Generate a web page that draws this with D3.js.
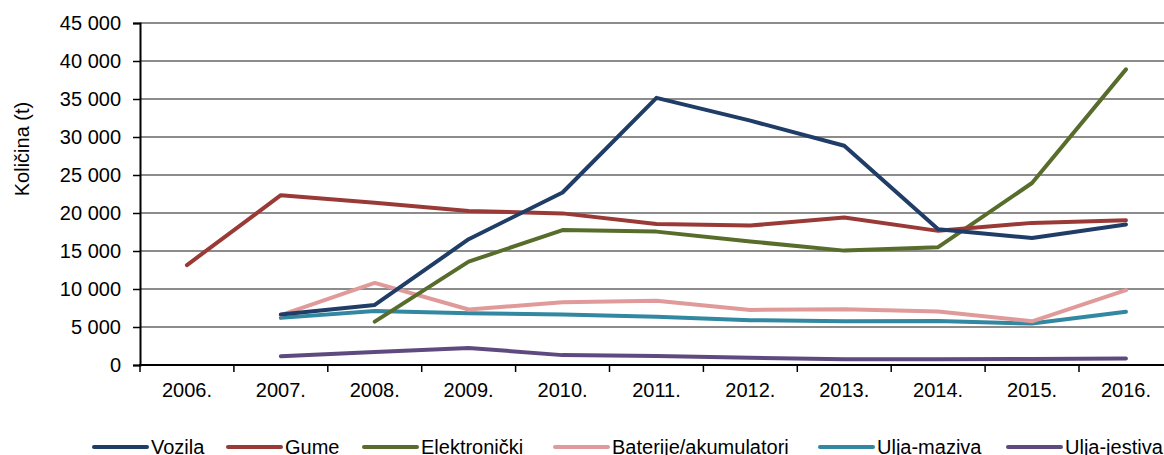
<!DOCTYPE html>
<html>
<head>
<meta charset="utf-8">
<script src="https://cdn.jsdelivr.net/npm/d3@7"></script>
<style>
  body { margin: 0; background: #fff; }
  svg { display: block; font-family: "Liberation Sans", Arial, sans-serif; }
</style>
</head>
<body>
<div class="chart"></div>
<script>
// categories (years)
var years = ['2006.', '2007.', '2008.', '2009.', '2010.', '2011.', '2012.', '2013.', '2014.', '2015.', '2016.'];
var yTicks = [0, 5000, 10000, 15000, 20000, 25000, 30000, 35000, 40000, 45000];

// series values in tonnes, null = no data
var vozila      = [null, 6650, 7900, 16550, 22700, 35150, 32150, 28850, 17850, 16700, 18500];
var gume        = [13150, 22350, 21350, 20250, 19950, 18550, 18350, 19400, 17650, 18700, 19050];
var elektronicki= [null, null, 5700, 13600, 17750, 17550, 16250, 15050, 15500, 23950, 38900];
var baterije    = [null, 6550, 10800, 7300, 8250, 8450, 7250, 7350, 7050, 5750, 9850];
var uljaMaziva  = [null, 6200, 7100, 6800, 6650, 6350, 5900, 5750, 5800, 5450, 7000];
var uljaJestiva = [null, 1150, 1700, 2250, 1300, 1200, 950, 750, 750, 800, 850];

var seriesNames = ['Vozila', 'Gume', 'Elektronički', 'Baterije/akumulatori', 'Ulja-maziva', 'Ulja-jestiva'];
var seriesColors = ['#1f3d66', '#9a3a37', '#586d2c', '#e09a9a', '#3288a0', '#5e4a7e'];

var app = function() {
	var W = 1164, H = 455;
	var left = 140, top = 23, bottom = 365;
	var band = 93.9;
	var svg, x, y;

	return {
		init: function() {
			svg = d3.select('.chart').append('svg')
				.attr('width', W).attr('height', H);

			x = d3.scaleBand().domain(years).range([left, left + band * years.length]);
			y = d3.scaleLinear().domain([0, 45000]).range([bottom, top]);

			this.drawGrid();
			this.drawLines();
			this.drawAxes();
			this.drawLegend();
		},

		drawGrid: function() {
			svg.append('g').selectAll('line')
				.data(yTicks.filter(function(d) { return d > 0; }))
				.enter().append('line')
				.attr('x1', left).attr('x2', W)
				.attr('y1', function(d) { return y(d); })
				.attr('y2', function(d) { return y(d); })
				.attr('stroke', '#8c8c8c')
				.attr('stroke-width', 2);
		},

		drawLines: function() {
			var data = [vozila, gume, elektronicki, baterije, uljaMaziva, uljaJestiva];
			var line = d3.line()
				.defined(function(d) { return d.v !== null; })
				.x(function(d) { return x(d.year) + x.bandwidth() / 2; })
				.y(function(d) { return y(d.v); });

			// draw from last to first so Vozila is on top
			for (var i = data.length - 1; i >= 0; i--) {
				var pts = data[i].map(function(v, j) { return {year: years[j], v: v}; });
				svg.append('path')
					.datum(pts)
					.attr('d', line)
					.attr('fill', 'none')
					.attr('stroke', seriesColors[i])
					.attr('stroke-width', 4)
					.attr('stroke-linejoin', 'round')
					.attr('stroke-linecap', 'round');
			}
		},

		drawAxes: function() {
			var yAxis = d3.axisLeft(y)
				.tickValues(yTicks)
				.tickSize(7)
				.tickPadding(12)
				.tickFormat(function(d) { return d3.format(',')(d).replace(/,/g, ' '); });

			var gy = svg.append('g')
				.attr('transform', 'translate(' + left + ',0)')
				.call(yAxis);
			gy.select('.domain').attr('stroke', '#000').attr('stroke-width', 2);
			gy.selectAll('.tick line').attr('stroke', '#000').attr('stroke-width', 1.5);
			gy.selectAll('text').attr('font-size', 20).attr('fill', '#000')
				.attr('font-family', '"Liberation Sans", Arial, sans-serif');

			// x axis: ticks on band boundaries, labels in middle
			var gx = svg.append('g');
			gx.append('line')
				.attr('x1', left - 1).attr('x2', W)
				.attr('y1', bottom).attr('y2', bottom)
				.attr('stroke', '#000').attr('stroke-width', 2);
			gx.selectAll('line.tk')
				.data(years)
				.enter().append('line')
				.attr('class', 'tk')
				.attr('x1', function(d) { return x(d); })
				.attr('x2', function(d) { return x(d); })
				.attr('y1', bottom).attr('y2', bottom + 7)
				.attr('stroke', '#000').attr('stroke-width', 1.5);
			gx.selectAll('text')
				.data(years)
				.enter().append('text')
				.attr('x', function(d) { return x(d) + x.bandwidth() / 2; })
				.attr('y', bottom + 32)
				.attr('text-anchor', 'middle')
				.attr('font-size', 20)
				.text(function(d) { return d; });

			svg.append('text')
				.attr('transform', 'translate(29,149) rotate(-90)')
				.attr('text-anchor', 'middle')
				.attr('font-size', 20)
				.text('Količina (t)');
		},

		drawLegend: function() {
			var starts = [92, 226, 362, 553, 818, 1006];
			var items = svg.append('g').selectAll('g')
				.data(seriesNames)
				.enter().append('g')
				.attr('transform', function(d, i) { return 'translate(' + starts[i] + ',447)'; });
			items.append('line')
				.attr('x1', 2).attr('x2', 55)
				.attr('stroke', function(d, i) { return seriesColors[i]; })
				.attr('stroke-width', 4)
				.attr('stroke-linecap', 'round');
			items.append('text')
				.attr('x', 59).attr('y', 7)
				.attr('font-size', 20)
				.text(function(d) { return d; });
		}
	};
}();

app.init();
</script>
</body>
</html>
